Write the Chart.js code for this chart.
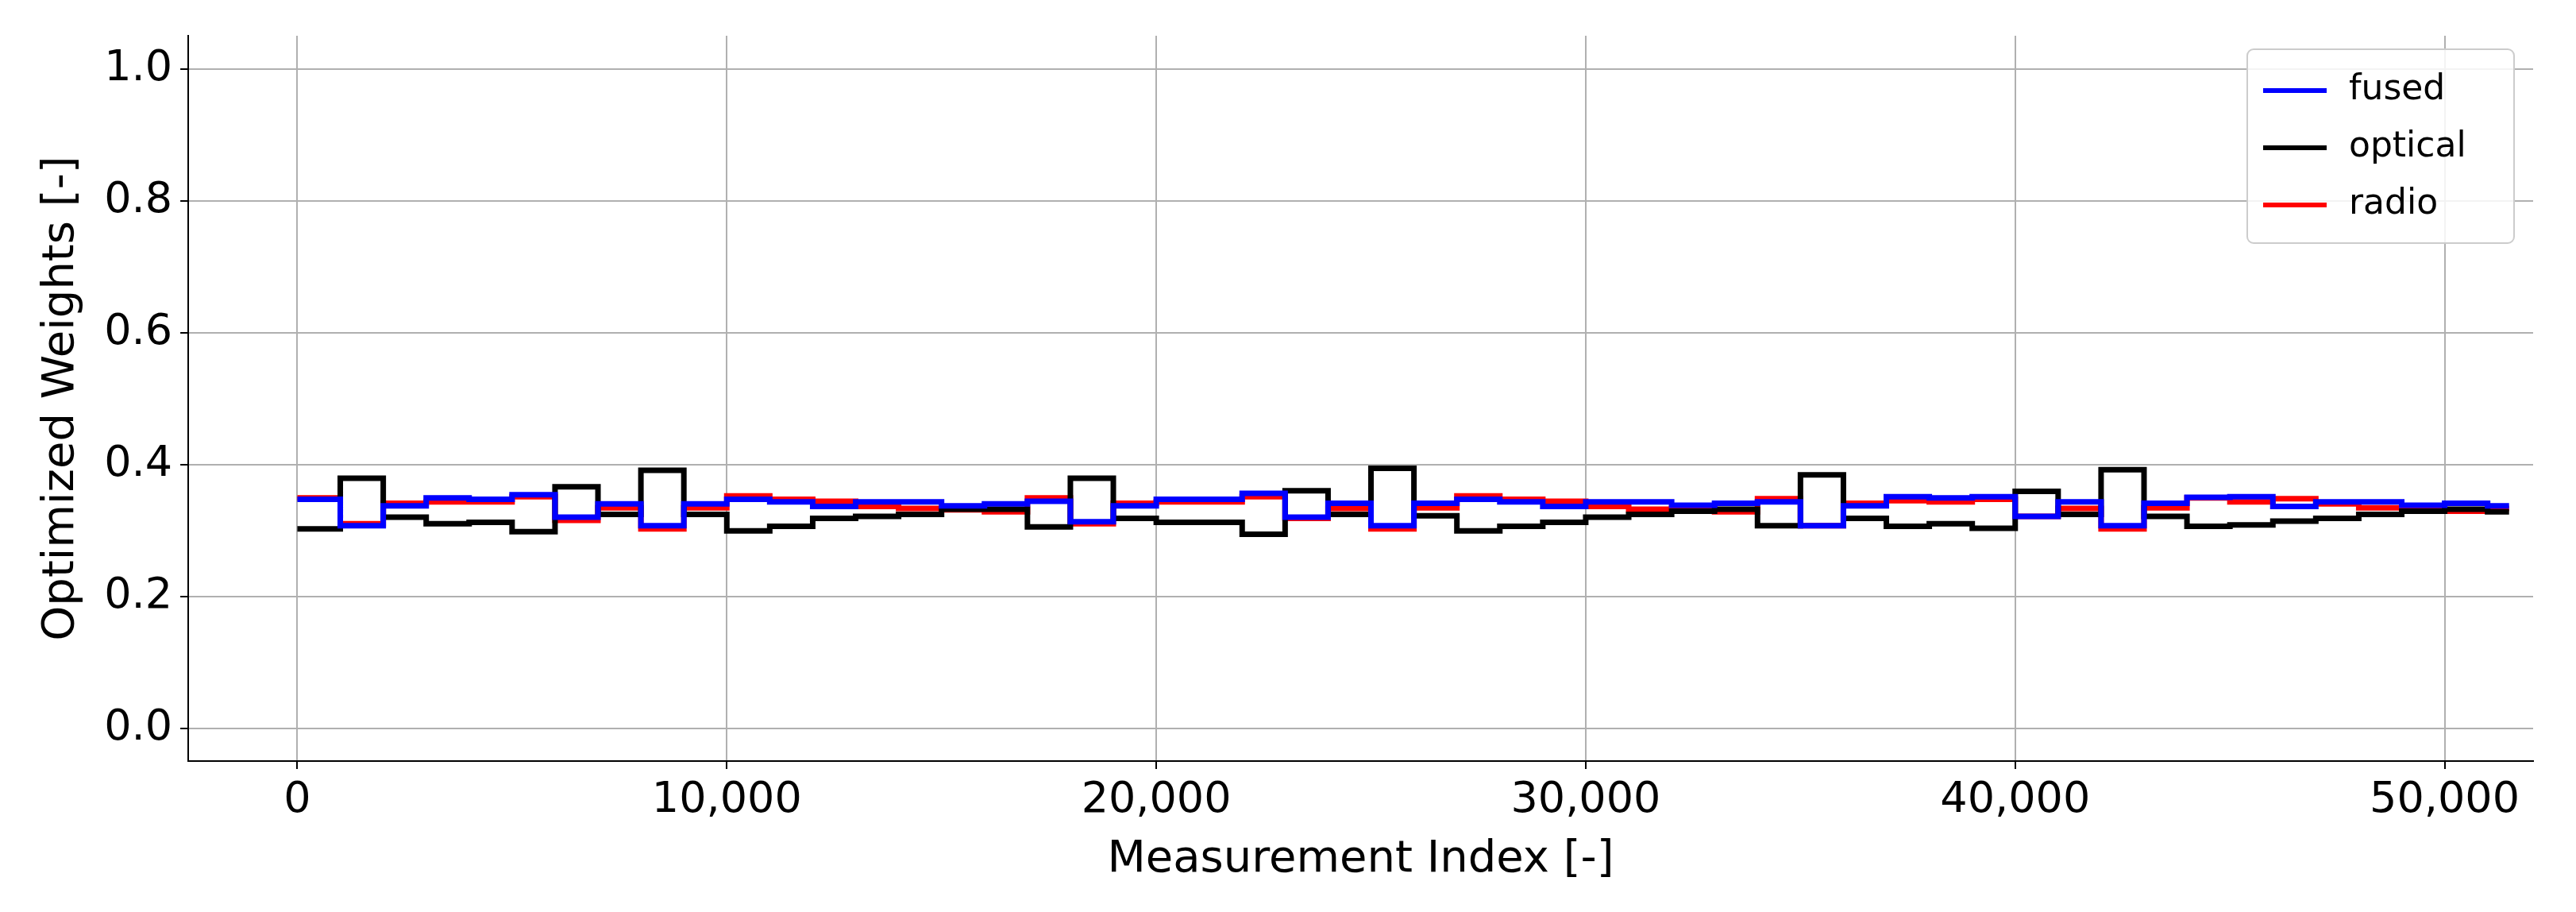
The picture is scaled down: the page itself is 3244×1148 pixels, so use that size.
<!DOCTYPE html>
<html>
<head>
<meta charset="utf-8">
<script src="https://cdn.jsdelivr.net/npm/chart.js@4"></script>
<style>
  html, body { margin: 0; padding: 0; background: white; }
</style>
</head>
<body>
<canvas id="weightsChart" width="3244" height="1148"></canvas>
<script>
// segment starts (measurement index), each step ~1000 samples, last point closes the final step
const stepStarts = [];
for (let k = 0; k < 52; k++) stepStarts.push(k * 1000);
const lastIndex = 51500;

const fused = [
  0.347, 0.307, 0.337, 0.349, 0.347, 0.354, 0.320, 0.340, 0.307, 0.340,
  0.347, 0.343, 0.336, 0.343, 0.343, 0.337, 0.340, 0.344, 0.313, 0.337,
  0.347, 0.347, 0.356, 0.320, 0.341, 0.307, 0.341, 0.347, 0.343, 0.336,
  0.343, 0.343, 0.338, 0.341, 0.343, 0.307, 0.337, 0.351, 0.349, 0.351,
  0.321, 0.343, 0.307, 0.341, 0.350, 0.351, 0.336, 0.343, 0.343, 0.338,
  0.341, 0.337,
];
const optical = [
  0.302, 0.379, 0.320, 0.310, 0.312, 0.298, 0.366, 0.324, 0.391, 0.324,
  0.299, 0.306, 0.318, 0.321, 0.324, 0.332, 0.332, 0.305, 0.379, 0.318,
  0.312, 0.312, 0.294, 0.360, 0.324, 0.394, 0.322, 0.299, 0.306, 0.312,
  0.320, 0.324, 0.329, 0.332, 0.307, 0.384, 0.318, 0.306, 0.310, 0.303,
  0.359, 0.324, 0.392, 0.321, 0.306, 0.308, 0.314, 0.318, 0.324, 0.329,
  0.332, 0.328,
];
const radio = [
  0.349, 0.310, 0.341, 0.343, 0.343, 0.351, 0.315, 0.334, 0.302, 0.334,
  0.352, 0.347, 0.344, 0.336, 0.333, 0.331, 0.328, 0.349, 0.310, 0.341,
  0.343, 0.343, 0.351, 0.318, 0.333, 0.302, 0.334, 0.352, 0.347, 0.344,
  0.336, 0.332, 0.333, 0.328, 0.348, 0.307, 0.341, 0.345, 0.343, 0.347,
  0.321, 0.333, 0.302, 0.334, 0.349, 0.343, 0.348, 0.340, 0.334, 0.333,
  0.329, 0.333,
];

const xTicks = [0, 10000, 20000, 30000, 40000, 50000];
const yTicks = [0.0, 0.2, 0.4, 0.6, 0.8, 1.0];

function toPoints(values) {
  const pts = values.map((v, i) => ({ x: stepStarts[i], y: v }));
  pts.push({ x: lastIndex, y: values[values.length - 1] });
  return pts;
}

const seriesDefs = [
  { label: "fused", values: fused, color: "#0000ff" },
  { label: "optical", values: optical, color: "#000000" },
  { label: "radio", values: radio, color: "#ff0000" },
];

const FONT = "'DejaVu Sans', sans-serif";

// legend drawn matplotlib-style in the upper right of the plot area
const boxLegend = {
  id: "boxLegend",
  afterDraw(chart) {
    const c = chart.ctx;
    const area = chart.chartArea;
    const w = 336, h = 244;
    const x0 = area.right - 24 - w, y0 = area.top + 17;
    c.save();
    c.fillStyle = "rgba(255,255,255,0.85)";
    c.strokeStyle = "#cccccc";
    c.lineWidth = 2;
    c.beginPath();
    c.roundRect(x0, y0, w, h, 8);
    c.fill();
    c.stroke();
    c.font = "44px " + FONT;
    c.textBaseline = "middle";
    chart.data.datasets.forEach((ds, i) => {
      const yy = y0 + 52 + i * 72;
      c.strokeStyle = ds.borderColor;
      c.lineWidth = 6;
      c.beginPath();
      c.moveTo(x0 + 20, yy);
      c.lineTo(x0 + 100, yy);
      c.stroke();
      c.fillStyle = "#000";
      c.fillText(ds.label, x0 + 128, yy);
    });
    c.restore();
  },
};

new Chart(document.getElementById("weightsChart").getContext("2d"), {
  type: "line",
  data: {
    datasets: seriesDefs.map((s) => ({
      label: s.label,
      data: toPoints(s.values),
      borderColor: s.color,
      backgroundColor: s.color,
      borderWidth: 7,
      stepped: "before",
      pointRadius: 0,
      fill: false,
    })),
  },
  options: {
    responsive: false,
    animation: false,
    devicePixelRatio: 1,
    layout: { padding: { left: 40, right: 54, top: 45, bottom: 28 } },
    plugins: { legend: { display: false }, tooltip: { enabled: false } },
    scales: {
      x: {
        type: "linear",
        min: -2540,
        max: 52060,
        afterBuildTicks: (axis) => { axis.ticks = xTicks.map((v) => ({ value: v })); },
        ticks: {
          color: "#000",
          font: { family: FONT, size: 54 },
          padding: 8,
          maxRotation: 0,
          callback: (v) => v.toLocaleString("en-US"),
        },
        grid: { color: "#b0b0b0", lineWidth: 2, tickLength: 10, tickColor: "#000" },
        border: { color: "#000", width: 2 },
        title: { display: true, text: "Measurement Index [-]", color: "#000", font: { family: FONT, size: 56 }, padding: { top: 0 } },
      },
      y: {
        min: -0.05,
        max: 1.05,
        afterBuildTicks: (axis) => { axis.ticks = yTicks.map((v) => ({ value: v })); },
        ticks: {
          color: "#000",
          font: { family: FONT, size: 54 },
          padding: 10,
          callback: (v) => v.toFixed(1),
        },
        grid: { color: "#b0b0b0", lineWidth: 2, tickLength: 10, tickColor: "#000" },
        border: { color: "#000", width: 2 },
        title: { display: true, text: "Optimized Weights [-]", color: "#000", font: { family: FONT, size: 56 }, padding: { bottom: 10 } },
      },
    },
  },
  plugins: [boxLegend],
});
</script>
</body>
</html>
